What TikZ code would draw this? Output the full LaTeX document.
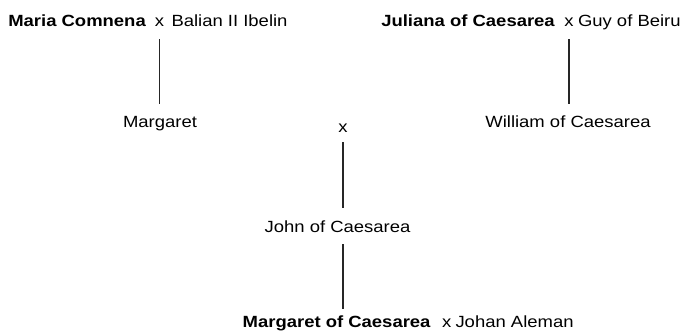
\documentclass[tikz,border=0pt]{standalone}
\usepackage{fontspec}
\setmainfont{Liberation Sans}[FakeStretch=1.14]
\begin{document}
\begin{tikzpicture}[x=1pt,y=-1pt,
  txt/.style={inner sep=0pt, outer sep=0pt, text height=11.5pt, text depth=3pt,
    font=\fontsize{16.2}{19}\selectfont},
  member/.style={txt, font=\fontsize{16.2}{19}\selectfont\bfseries, anchor=base west},
  spouse/.style={txt, anchor=base west},
  marr/.style={txt, anchor=base},
  child/.style={txt, anchor=base},
  descent/.style={draw=black!85, line width=1.2pt}]
\useasboundingbox (0,0) rectangle (684,331);

% first couple and their daughter
\node[member] (maria) at (8.3,27) {Maria Comnena};
\node[marr] (mxa) at (159.5,27) {x};
\node[spouse] (balian) at (171.5,27) {Balian II Ibelin};
\node[child] (margaret) at (160,128) {Margaret};

% second couple and their son
\node[member] (juliana) at (381.3,27) {Juliana of Caesarea};
\node[marr] (mxb) at (569,27) {x};
\node[spouse] (guy) at (578,27) {Guy of Beiru};
\node[child] (william) at (568,128) {William of Caesarea};

% marriage of the two children
\node[marr] (mxc) at (343,133) {x};
\node[child] (john) at (337.5,232) {John of Caesarea};

% last generation
\node[member] (margc) at (242.7,327) {Margaret of Caesarea};
\node[marr] (mxd) at (446.7,327.5) {x};
\node[spouse] (johan) at (455.5,327) {Johan Aleman};

\draw[descent, shorten <=9.5pt, shorten >=12.5pt] (mxa.south) -- (mxa.south |- margaret.north);
\draw[descent, shorten <=9.5pt, shorten >=12.5pt] (mxb.south) -- (mxb.south |- william.north);
\draw[descent, shorten <=6.5pt, shorten >=12.2pt] (mxc.south) -- (mxc.south |- john.north);
\draw[descent, shorten <=9pt, shorten >=6.5pt] (john.south -| mxc.south) -- (mxc.south |- margc.north);
\end{tikzpicture}
\end{document}
